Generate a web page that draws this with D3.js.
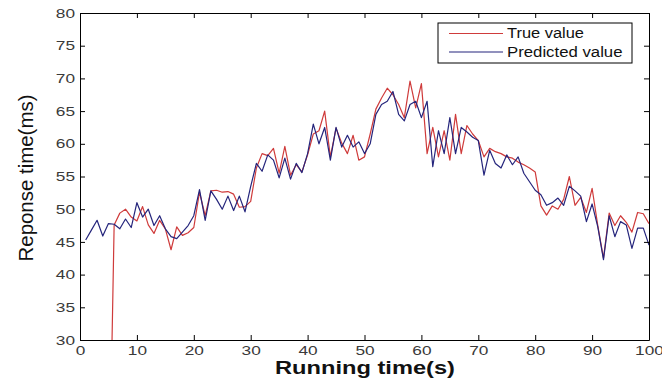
<!DOCTYPE html>
<html>
<head>
<meta charset="utf-8">
<script src="https://cdn.jsdelivr.net/npm/d3@7"></script>
<style>
  body { margin: 0; background: #fff; }
  svg { display: block; font-family: Arial, "Liberation Sans", sans-serif; }
</style>
</head>
<body>
<svg id="chart" width="662" height="380"></svg>
<script>
// x positions 1..100
const trueValue = [
  0, 0, 0, 0, 0, 47.6, 49.4, 50.0, 48.8, 48.2,
  50.4, 47.6, 46.3, 48.3, 47.0, 43.8, 47.3, 46.0, 46.4, 47.2,
  52.6, 49.0, 52.8, 52.9, 52.6, 52.7, 52.3, 50.3, 50.4, 51.2,
  56.3, 58.5, 58.2, 59.3, 55.5, 59.6, 55.2, 56.8, 55.7, 58.3,
  61.5, 62.0, 65.0, 58.0, 62.4, 60.1, 58.5, 61.3, 57.5, 58.0,
  61.5, 65.3, 67.0, 68.5, 67.5, 66.0, 64.0, 69.6, 65.5, 69.2,
  58.5, 62.5, 58.0, 62.0, 57.5, 64.5, 58.5, 62.8, 61.5, 60.5,
  58.0, 59.3, 58.8, 58.5, 58.0, 57.8, 57.2, 56.8, 56.3, 55.7,
  50.5, 49.1, 50.5, 50.0, 51.5, 55.0, 50.6, 51.8, 49.5, 53.2,
  47.5, 42.5, 49.4, 47.5, 49.0, 48.0, 46.5, 49.5, 49.3, 47.8
];
const predictedValue = [
  45.3, 46.8, 48.3, 45.9, 47.8, 47.7, 47.0, 48.5, 47.2, 51.0,
  48.8, 50.0, 47.5, 49.0, 47.0, 45.8, 45.5, 46.5, 47.5, 49.0,
  53.0, 48.3, 52.8, 51.5, 50.0, 52.0, 49.8, 52.0, 49.6, 53.5,
  57.0, 55.8, 58.3, 57.5, 54.8, 57.8, 54.6, 57.0, 55.6, 58.5,
  63.0, 60.0, 62.5, 57.5, 62.5, 59.5, 61.3, 59.5, 60.3, 58.5,
  60.0, 64.5, 66.0, 66.5, 68.0, 64.5, 63.5, 66.0, 66.5, 64.0,
  66.5, 56.5, 62.0, 58.5, 64.0, 58.5, 62.5, 61.8, 61.0, 60.5,
  55.2, 59.0, 57.0, 56.3, 58.3, 56.8, 58.0, 55.5, 54.2, 52.9,
  52.2, 50.6, 51.0, 51.7, 50.6, 53.5, 52.8, 52.0, 48.1, 50.8,
  47.3, 42.3, 49.0, 45.8, 48.1, 47.6, 44.0, 47.1, 47.1, 44.5
];
const xTicks = [0, 10, 20, 30, 40, 50, 60, 70, 80, 90, 100];
const yTicks = [30, 35, 40, 45, 50, 55, 60, 65, 70, 75, 80];
const seriesNames = ["True value", "Predicted value"];
const seriesColors = ["#cf3b3b", "#25257c"];

const svg = d3.select("#chart");
const margin = {top: 13, right: 13, bottom: 40, left: 80};
const width = 662 - margin.left - margin.right;
const height = 380 - margin.top - margin.bottom;

const x = d3.scaleLinear().domain([0, 100]).range([0, width]);
const y = d3.scaleLinear().domain([30, 80]).range([height, 0]);

const g = svg.append("g").attr("transform", `translate(${margin.left},${margin.top})`);

g.append("clipPath").attr("id", "clip")
  .append("rect").attr("width", width).attr("height", height);

const line = d3.line().x((d, i) => x(i + 1)).y(d => y(d));

const series = [trueValue, predictedValue];
series.forEach((data, k) => {
  g.append("path")
    .attr("clip-path", "url(#clip)")
    .attr("fill", "none")
    .attr("stroke", seriesColors[k])
    .attr("stroke-width", 1.2)
    .attr("stroke-linejoin", "round")
    .attr("d", line(data));
});

// axes, MATLAB box style with inward ticks; the source picture is stretched sideways
const styleAxis = sel => {
  sel.select(".domain").attr("stroke", "#000");
  sel.selectAll(".tick line").attr("stroke", "#000");
  sel.selectAll("text").attr("fill", "#3a3a3a").style("font-size", "13px")
    .style("font-family", "Arial, 'Liberation Sans', sans-serif")
    .attr("textLength", d => String(d).length * 9.6)
    .attr("lengthAdjust", "spacingAndGlyphs");
};

g.append("g").attr("transform", `translate(0,${height})`)
  .call(d3.axisBottom(x).tickValues(xTicks).tickSize(-5).tickPadding(6).tickSizeOuter(0))
  .call(styleAxis);
g.append("g")
  .call(d3.axisTop(x).tickValues(xTicks).tickSize(-5).tickFormat("").tickSizeOuter(0))
  .call(styleAxis);
g.append("g")
  .call(d3.axisLeft(y).tickValues(yTicks).tickSize(-5).tickPadding(5).tickSizeOuter(0))
  .call(styleAxis);
g.append("g").attr("transform", `translate(${width},0)`)
  .call(d3.axisRight(y).tickValues(yTicks).tickSize(-5).tickFormat("").tickSizeOuter(0))
  .call(styleAxis);

// axis titles
svg.append("text")
  .attr("x", 365)
  .attr("y", 374)
  .attr("text-anchor", "middle")
  .attr("textLength", 180)
  .attr("lengthAdjust", "spacingAndGlyphs")
  .style("font-size", "18px")
  .style("font-weight", "bold")
  .attr("fill", "#111")
  .text("Running time(s)");

svg.append("text")
  .attr("transform", `translate(33,178) rotate(-90)`)
  .attr("text-anchor", "middle")
  .attr("textLength", 167)
  .attr("lengthAdjust", "spacingAndGlyphs")
  .style("font-size", "21px")
  .attr("fill", "#111")
  .text("Reponse time(ms)");

// legend
const legend = svg.append("g").attr("transform", "translate(438,23)");
legend.append("rect")
  .attr("width", 194).attr("height", 40)
  .attr("fill", "#fff").attr("stroke", "#000").attr("stroke-width", 1);
seriesNames.forEach((name, k) => {
  const ly = 10.5 + k * 18.5;
  legend.append("line")
    .attr("x1", 11).attr("x2", 65).attr("y1", ly).attr("y2", ly)
    .attr("stroke", seriesColors[k]).attr("stroke-width", 1.2);
  legend.append("text")
    .attr("x", 69).attr("y", ly).attr("dy", "0.35em")
    .attr("textLength", name.length * 7.7)
    .attr("lengthAdjust", "spacingAndGlyphs")
    .style("font-size", "14px").attr("fill", "#111")
    .text(name);
});
</script>
</body>
</html>
